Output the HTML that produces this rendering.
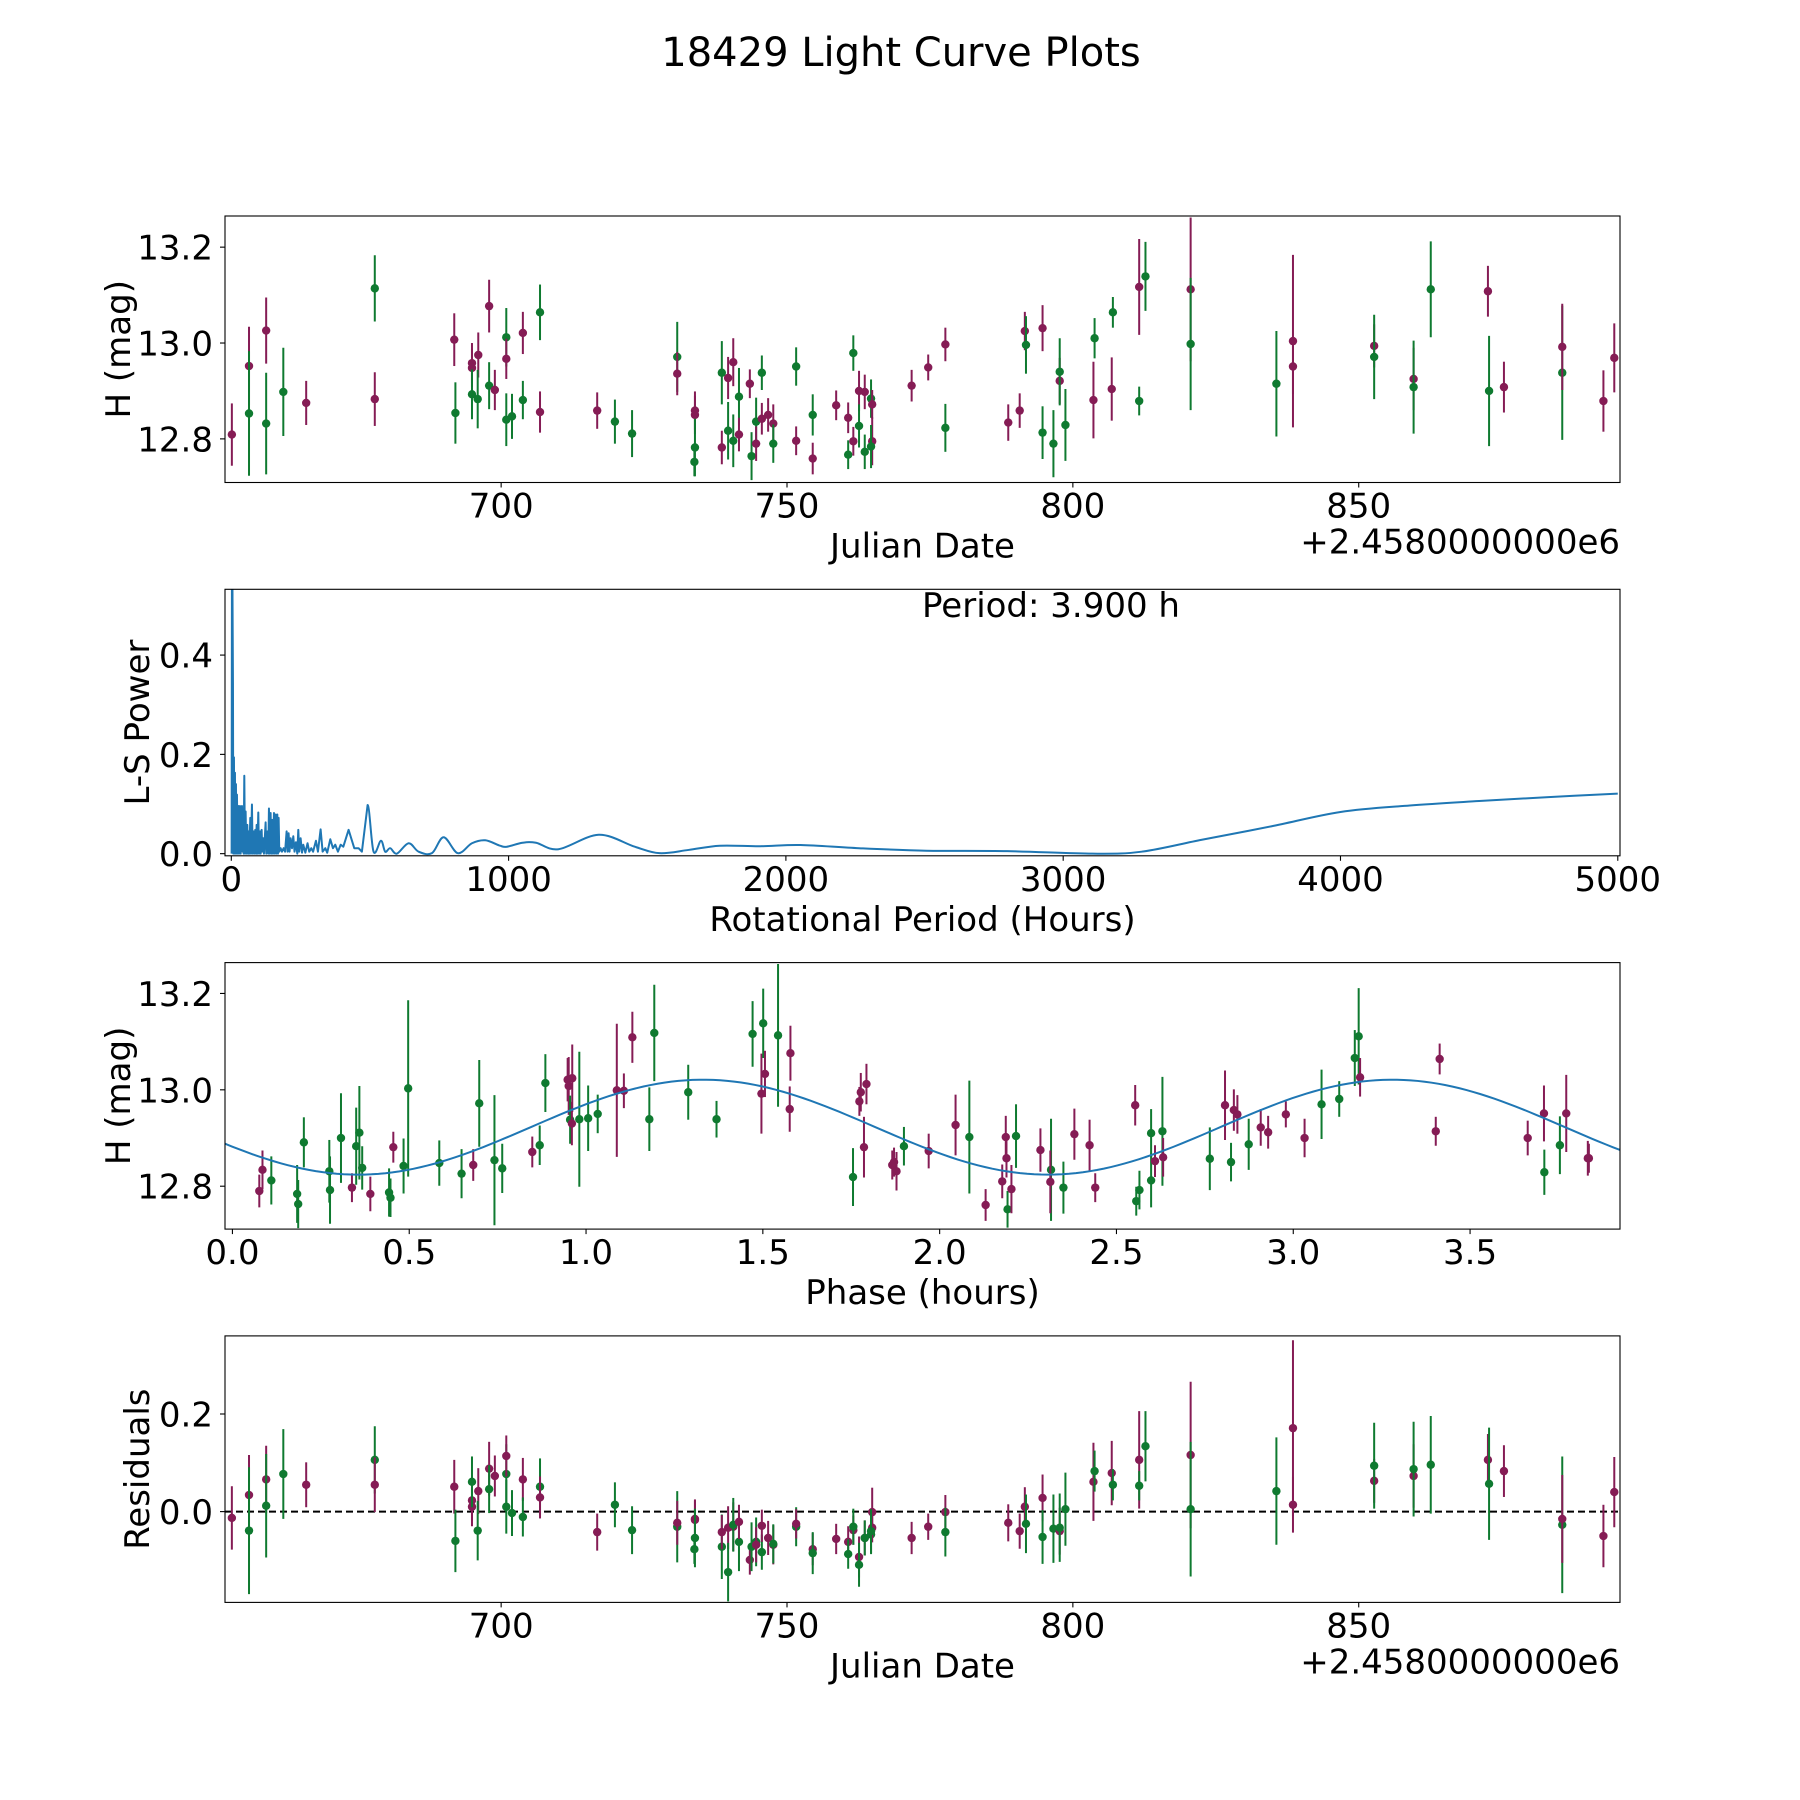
<!DOCTYPE html>
<html><head><meta charset="utf-8"><style>
html,body{margin:0;padding:0;background:#fff;}
svg{display:block;font-family:"DejaVu Sans","Liberation Sans",sans-serif;}
</style></head><body>
<svg id="fig" xmlns="http://www.w3.org/2000/svg" width="1800" height="1800" viewBox="0 0 1800 1800">
<rect width="1800" height="1800" fill="#fff"/>
<text x="901" y="66" font-size="40" text-anchor="middle" fill="#000">18429 Light Curve Plots</text>
</svg>
<script>
// ---- Panel 1 / 4 data (Julian date offsets) ----
const dates = [652.9,655.9,655.9,658.9,658.9,661.9,665.9,677.9,677.9,691.8,692.0,694.9,694.9,694.9,696.0,695.9,697.9,697.9,698.9,700.9,700.9,700.9,701.9,703.8,703.8,706.8,706.8,716.8,719.9,722.9,730.8,730.8,733.9,733.9,733.9,733.8,738.6,738.6,739.7,739.7,740.6,740.6,741.6,741.6,743.5,743.8,744.6,744.6,745.6,745.6,746.7,747.6,747.6,751.6,751.6,754.5,754.5,758.6,760.7,760.7,761.6,761.6,762.6,762.6,763.6,763.6,764.7,764.9,764.9,764.7,771.8,774.7,777.7,777.7,788.7,790.7,791.6,791.8,794.7,794.7,796.6,797.7,797.7,798.7,803.6,803.8,806.8,807.0,811.6,811.6,812.7,820.6,820.6,835.6,838.5,838.5,852.7,852.7,859.6,859.6,862.6,872.6,872.8,875.4,885.6,885.6,892.8,894.7];
const mags = [12.809,12.952,12.853,13.026,12.832,12.898,12.875,13.114,12.883,13.007,12.854,12.958,12.948,12.893,12.975,12.883,13.077,12.911,12.902,13.012,12.967,12.840,12.847,13.021,12.881,13.064,12.856,12.859,12.836,12.811,12.971,12.936,12.859,12.850,12.782,12.752,12.938,12.782,12.927,12.817,12.960,12.796,12.888,12.809,12.915,12.764,12.836,12.790,12.938,12.842,12.850,12.832,12.790,12.951,12.796,12.759,12.850,12.870,12.844,12.767,12.795,12.979,12.900,12.827,12.898,12.773,12.884,12.872,12.795,12.784,12.911,12.949,12.997,12.823,12.834,12.859,13.025,12.996,13.031,12.813,12.790,12.921,12.940,12.829,12.881,13.010,12.904,13.064,13.117,12.879,13.139,13.112,12.998,12.915,13.004,12.951,12.994,12.971,12.925,12.908,13.112,13.108,12.900,12.908,12.938,12.992,12.879,12.969];
const magErrs = [.065,.082,.13,.069,.106,.092,.046,.069,.056,.055,.064,.042,.04,.052,.047,.061,.055,.049,.042,.061,.042,.055,.047,.044,.04,.058,.043,.038,.046,.049,.073,.045,.04,.04,.06,.03,.066,.035,.044,.06,.05,.055,.06,.035,.03,.05,.05,.036,.036,.033,.035,.04,.04,.04,.03,.033,.043,.031,.032,.03,.03,.037,.042,.045,.036,.036,.04,.03,.05,.045,.033,.027,.035,.05,.038,.036,.04,.06,.048,.055,.07,.048,.07,.075,.08,.042,.066,.032,.1,.03,.072,.15,.138,.11,.18,.057,.045,.088,.065,.097,.1,.053,.115,.053,.14,.09,.064,.072];
const bands = "rrgrggrgrrgrrgrgrgrgrggrggrrgggrrrgggrrgrggrrggrgrrrggrrgrrgrgrgrggrrgrrrgrrrgrggrggrgrgrggrggrrrgrggrgrgrrr".split("");
const residuals = [-0.013,0.034,-0.039,0.066,0.012,0.077,0.055,0.106,0.055,0.051,-0.060,0.023,0.010,0.061,0.042,-0.039,0.088,0.046,0.073,0.077,0.114,0.010,-0.003,0.066,-0.011,0.051,0.029,-0.042,0.014,-0.038,-0.031,-0.023,-0.015,-0.017,-0.054,-0.077,-0.072,-0.042,-0.033,-0.124,-0.031,-0.027,-0.062,-0.021,-0.099,-0.072,-0.062,-0.068,-0.083,-0.029,-0.054,-0.068,-0.066,-0.031,-0.025,-0.077,-0.085,-0.056,-0.062,-0.087,-0.038,-0.031,-0.093,-0.109,-0.054,-0.054,-0.047,-0.033,-0.001,-0.040,-0.054,-0.031,-0.001,-0.042,-0.023,-0.040,0.010,-0.025,0.028,-0.052,-0.035,-0.040,-0.033,0.005,0.061,0.083,0.079,0.055,0.106,0.053,0.134,0.116,0.005,0.042,0.171,0.014,0.063,0.094,0.073,0.087,0.096,0.106,0.057,0.083,-0.027,-0.015,-0.050,0.040];
// ---- Panel 2 data (periodogram) ----
const periods = [1.2,2.4,3.6,6,7.2,9.6,10.8,13.2,14.4,16.8,18,20.4,22.8,25.2,27.6,31.3,33.7,38.5,40.9,43.3,44.5,46.9,49.3,51.7,54.1,57.7,60.1,62.5,64.9,68.5,70.9,74.5,76.9,80.5,82.9,86.5,88.9,91.4,93.8,97.4,99.8,103.4,105.8,109.4,111.8,115.4,117.8,123.8,126.2,131,133.4,135.8,138.2,141.8,144.2,147.8,150.2,153.9,156.3,159.9,162.3,165.9,168.3,170.7,173,178,182.7,188.7,194,199.5,203,206.7,210,214,219,223.6,228,233,238,241.6,245,250,255,259.6,267,275,281,288.5,295,305.3,312.5,322.1,329.3,339,346,357,366.6,375,384.6,394.3,404,423,443.5,459,471,491.6,513,539.7,555,573,597,639.5,675.5,723.6,765.7,817,867.8,916,969,994,1050,1099,1180,1325,1455,1544,1649,1762,1908,2053,2264,2506,2798,3105,3283,3500,3750,4000,4250,4500,4750,5000];
const powers = [0,0.6,0.6,0.343,0,0.194,0,0.163,0,0.14,0,0.119,0,0.096,0,0.096,0,0.096,0.004,0.072,0,0.157,0,0.085,0,0.058,0,0.045,0,0.072,0,0.099,0,0.045,0,0.048,0,0.058,0,0.083,0,0.045,0,0.048,0.004,0.031,0,0.063,0,0.045,0,0.091,0,0.082,0,0.068,0,0.082,0,0.079,0,0.079,0,0.072,0.004,0.011,0.004,0.011,0.004,0.045,0.004,0.041,0.004,0.031,0.011,0.035,0.004,0.023,0,0.048,0.004,0.031,0.002,0.018,0.002,0.021,0.004,0.011,0.004,0.026,0.004,0.049,0.004,0.011,0.002,0.029,0.011,0.018,0.004,0.018,0.014,0.048,0.011,0.011,0.004,0.098,0.004,0.026,0.004,0.011,0,0.021,0.004,0.001,0.033,0.001,0.021,0.027,0.016,0.014,0.022,0.022,0.009,0.038,0.014,0.001,0.0075,0.016,0.015,0.0175,0.011,0.006,0.005,0.0,0.004,0.028,0.055,0.084,0.097,0.106,0.114,0.121];
// ---- Panel 3 data (phased) ----
const phases = [0.076,0.085,0.110,0.183,0.186,0.202,0.274,0.276,0.307,0.338,0.350,0.359,0.367,0.390,0.443,0.447,0.455,0.484,0.497,0.585,0.648,0.681,0.698,0.741,0.763,0.848,0.869,0.885,0.948,0.951,0.961,0.955,0.960,0.981,1.006,1.033,1.087,1.107,1.131,1.179,1.193,1.289,1.369,1.471,1.496,1.501,1.506,1.543,1.576,1.578,1.755,1.773,1.777,1.786,1.793,1.866,1.871,1.878,1.899,1.969,2.045,2.084,2.130,2.177,2.187,2.189,2.192,2.203,2.216,2.285,2.315,2.313,2.350,2.381,2.424,2.440,2.553,2.556,2.565,2.598,2.598,2.609,2.630,2.632,2.764,2.807,2.824,2.832,2.842,2.874,2.908,2.929,2.979,3.032,3.080,3.130,3.174,3.185,3.189,3.403,3.414,3.663,3.709,3.710,3.754,3.772,3.833,3.836];
const phaseMags = [12.790,12.834,12.812,12.784,12.763,12.891,12.831,12.792,12.900,12.797,12.883,12.911,12.838,12.784,12.787,12.776,12.881,12.842,13.003,12.848,12.826,12.844,12.972,12.854,12.837,12.871,12.885,13.014,13.021,13.008,13.024,12.938,12.930,12.939,12.941,12.950,12.999,12.998,13.109,12.939,13.118,12.995,12.939,13.116,12.992,13.138,13.033,13.113,12.960,13.076,12.819,12.976,12.995,12.881,13.012,12.844,12.850,12.831,12.883,12.873,12.927,12.902,12.761,12.810,12.902,12.858,12.752,12.794,12.904,12.875,12.834,12.809,12.797,12.908,12.885,12.797,12.968,12.769,12.792,12.910,12.812,12.852,12.914,12.860,12.857,12.968,12.850,12.958,12.949,12.887,12.922,12.912,12.949,12.900,12.970,12.981,13.066,13.111,13.026,12.914,13.064,12.900,12.951,12.829,12.885,12.951,12.858,12.858];
const phaseErrs = [.034,.04,.05,.06,.05,.052,.065,.07,.093,.03,.08,.097,.045,.036,.05,.04,.032,.057,.183,.047,.051,.033,.09,.135,.051,.032,.041,.06,.045,.06,.07,.05,.045,.14,.068,.04,.138,.036,.053,.066,.1,.057,.038,.068,.083,.072,.048,.148,.047,.057,.06,.03,.04,.063,.042,.03,.03,.04,.04,.036,.063,.117,.033,.035,.044,.04,.038,.05,.066,.045,.106,.065,.054,.053,.053,.03,.042,.03,.04,.05,.056,.033,.113,.04,.065,.072,.04,.043,.04,.053,.038,.034,.027,.04,.072,.037,.058,.1,.04,.03,.032,.036,.058,.047,.06,.08,.036,.03];
const phaseColorList = ["r","r","g","g","g","g","g","g","g","r","g","g","g","r","g","g","r","g","g","g","g","r","g","g","g","r","g","g","r","r","r","g","r","g","g","g","r","r","r","g","g","g","g","g","r","g","r","g","r","r","g","r","r","r","r","r","r","r","g","r","r","g","r","r","r","r","g","r","g","r","g","r","g","r","r","r","r","g","g","g","g","r","g","r","g","r","g","r","r","g","r","r","r","r","g","g","g","g","r","r","r","r","r","g","g","r","r","r"];
// fitted model parameters (sinusoid in phase panel)
const modelParams = [12.9225, 0.0985, 0.356, 1.95]; // mean, amplitude, phase of minimum, period
const xTicks1 = [700,750,800,850];
const yTicks1 = [12.8,13.0,13.2];
const xTicks2 = [0,1000,2000,3000,4000,5000];
const yTicks2 = [0.0,0.2,0.4];
const xTicks3 = [0.0,0.5,1.0,1.5,2.0,2.5,3.0,3.5];
const yTicks4 = [0.0,0.2];

const NS = "http://www.w3.org/2000/svg";
const svg = document.getElementById("fig");
const PURPLE = "#851c55", GREEN = "#0f7a30", BLUE = "#1f77b4";
const L = 225, W = 1395, H = 266.5;
const TOPS = [216, 589.3, 962.6, 1335.9];

function el(tag, attrs, parent) {
  const e = document.createElementNS(NS, tag);
  for (const k in attrs) e.setAttribute(k, attrs[k]);
  (parent || svg).appendChild(e);
  return e;
}
function mkScale(d0, d1, r0, r1) { return v => r0 + (v - d0) / (d1 - d0) * (r1 - r0); }

function makePanel(i, xlim, ylim, name) {
  const top = TOPS[i];
  const g = el("g", {});
  
  
  const clipId = "clip" + i;
  const cp = el("clipPath", {id: clipId}, g);
  el("rect", {x: L, y: top, width: W, height: H}, cp);
  const plot = el("g", {"clip-path": "url(#" + clipId + ")"}, g);
  
  
  return {g, plot, top, x: mkScale(xlim[0], xlim[1], L, L + W), y: mkScale(ylim[0], ylim[1], top + H, top)};
}
function frame(p) {
  const r = el("rect", {x: L, y: p.top, width: W, height: H, fill: "none", stroke: "#000", "stroke-width": 1.1}, p.g);
  
  
}
function xTicks(p, ticks, fmt) {
  const b = p.top + H;
  ticks.forEach(t => {
    const X = p.x(t);
    el("line", {x1: X, x2: X, y1: b, y2: b + 5, stroke: "#000", "stroke-width": 1.1}, p.g);
    const tx = el("text", {x: X, y: b + 35, "font-size": 34, "text-anchor": "middle"}, p.g);
    
    
    tx.textContent = fmt(t);
  });
}
function yTicks(p, ticks, fmt) {
  ticks.forEach(t => {
    const Y = p.y(t);
    el("line", {x1: L - 5, x2: L, y1: Y, y2: Y, stroke: "#000", "stroke-width": 1.1}, p.g);
    const tx = el("text", {x: 213, y: Y + 12.5, "font-size": 34, "text-anchor": "end"}, p.g);
    
    
    tx.textContent = fmt(t);
  });
}
function xLabel(p, txt, offset) {
  const b = p.top + H;
  const t = el("text", {x: L + W / 2, y: b + 75, "font-size": 34, "text-anchor": "middle"}, p.g);
  
  
  t.textContent = txt;
  if (offset) {
    const o = el("text", {x: L + W, y: b + 71, "font-size": 34, "text-anchor": "end"}, p.g);
    
    
    o.textContent = offset;
  }
}
function yLabel(p, txt, bx) {
  const cy = p.top + H / 2;
  const t = el("text", {x: bx, y: cy, "font-size": 34, "text-anchor": "middle", transform: "rotate(-90 " + bx + " " + cy + ")"}, p.g);
  
  
  t.textContent = txt;
}
function errPoints(p, xs, ys, es, cs) {
  for (let i = 0; i < xs.length; i++) {
    const c = cs[i] === "g" ? GREEN : PURPLE;
    const X = p.x(xs[i]);
    const ln = el("line", {x1: X, x2: X, y1: p.y(ys[i] - es[i]), y2: p.y(ys[i] + es[i]), stroke: c, "stroke-width": 2}, p.plot);
    
    
    const dot = el("circle", {cx: X, cy: p.y(ys[i]), r: 4.2, fill: c}, p.plot);
    
    
  }
}
const f1 = v => v.toFixed(1);

// Panel 1
const p1 = makePanel(0, [651.7, 895.7], [12.709, 13.265], "light-curve-panel");
errPoints(p1, dates, mags, magErrs, bands);
frame(p1); xTicks(p1, xTicks1, v => String(v)); yTicks(p1, yTicks1, f1);
xLabel(p1, "Julian Date", "+2.4580000000e6"); yLabel(p1, "H (mag)", 130);

// Panel 2
const p2 = makePanel(1, [-22.7, 5008], [-0.0043, 0.5325], "periodogram-panel");
const pts = periods.map((per, i) => [p2.x(per), p2.y(powers[i])]);
let d = "M" + pts[0][0].toFixed(2) + " " + pts[0][1].toFixed(2);
for (let i = 1; i < pts.length; i++) {
  if (periods[i] < 500) { d += "L" + pts[i][0].toFixed(2) + " " + pts[i][1].toFixed(2); continue; }
  const p0 = pts[i - 2] || pts[i - 1], pa = pts[i - 1], pb = pts[i], pc = pts[i + 1] || pts[i];
  const c1 = [pa[0] + (pb[0] - p0[0]) / 6, pa[1] + (pb[1] - p0[1]) / 6];
  const c2 = [pb[0] - (pc[0] - pa[0]) / 6, pb[1] - (pc[1] - pa[1]) / 6];
  d += "C" + c1[0].toFixed(2) + " " + c1[1].toFixed(2) + " " + c2[0].toFixed(2) + " " + c2[1].toFixed(2) + " " + pb[0].toFixed(2) + " " + pb[1].toFixed(2);
}
const pl = el("path", {d: d, fill: "none", stroke: BLUE, "stroke-width": 2, "stroke-linejoin": "round"}, p2.plot);


frame(p2); xTicks(p2, xTicks2, v => String(v)); yTicks(p2, yTicks2, f1);
xLabel(p2, "Rotational Period (Hours)"); yLabel(p2, "L-S Power", 149);
const pt = el("text", {x: 922, y: 617, "font-size": 34}, p2.g);


pt.textContent = "Period: 3.900 h";

// Panel 3
const p3 = makePanel(2, [-0.021, 3.924], [12.711, 13.264], "phased-curve-panel");
errPoints(p3, phases, phaseMags, phaseErrs, phaseColorList);
let md = "";
for (let k = 0; k <= 200; k++) {
  const ph = -0.021 + k * (3.924 + 0.021) / 200;
  const mv = modelParams[0] - modelParams[1] * Math.cos(2 * Math.PI * (ph - modelParams[2]) / modelParams[3]);
  md += (k ? "L" : "M") + p3.x(ph).toFixed(2) + " " + p3.y(mv).toFixed(2);
}
const ml = el("path", {d: md, fill: "none", stroke: BLUE, "stroke-width": 2}, p3.plot);


frame(p3); xTicks(p3, xTicks3, f1); yTicks(p3, yTicks1, f1);
xLabel(p3, "Phase (hours)"); yLabel(p3, "H (mag)", 130);

// Panel 4
const p4 = makePanel(3, [651.7, 895.7], [-0.186, 0.36], "residuals-panel");
const zl = el("line", {x1: L, x2: L + W, y1: p4.y(0), y2: p4.y(0), stroke: "#000", "stroke-width": 2, "stroke-dasharray": "7,4"}, p4.plot);


errPoints(p4, dates, residuals, magErrs, bands);
frame(p4); xTicks(p4, xTicks1, v => String(v)); yTicks(p4, yTicks4, f1);
xLabel(p4, "Julian Date", "+2.4580000000e6"); yLabel(p4, "Residuals", 149);
</script>
</body></html>
